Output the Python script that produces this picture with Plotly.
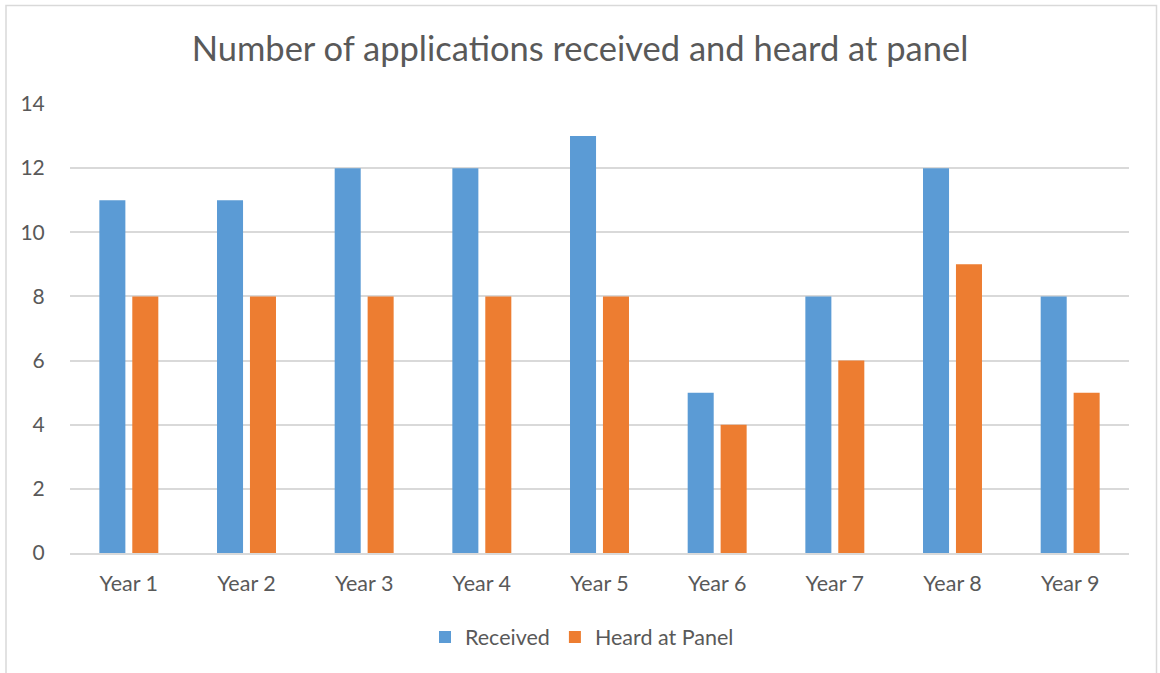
import plotly.graph_objects as go

categories = ["Year 1", "Year 2", "Year 3", "Year 4", "Year 5", "Year 6", "Year 7", "Year 8", "Year 9"]
received = [11, 11, 12, 12, 13, 5, 8, 12, 8]
heard = [8, 8, 8, 8, 8, 4, 6, 9, 5]
y_ticks = [0, 2, 4, 6, 8, 10, 12, 14]

W, H = 1160, 673
L, R, T, B = 70, 31, 104, 120
pw, ph = W - L - R, H - T - B

def px_to_paper_x(x):
    return (x - L) / pw

def px_to_paper_y(y):
    return (H - B - y) / ph

font_family = "Lato, 'Open Sans', sans-serif"
text_color = "#595959"

fig = go.Figure()
fig.add_trace(go.Bar(x=categories, y=received, name="Received", marker=dict(color="#5B9BD5", line=dict(width=0))))
fig.add_trace(go.Bar(x=categories, y=heard, name="Heard at Panel", marker=dict(color="#ED7D31", line=dict(width=0))))

fig.update_layout(
    width=W, height=H,
    margin=dict(l=L, r=R, t=T, b=B),
    paper_bgcolor="white", plot_bgcolor="white",
    barmode="group", bargap=0.44, bargroupgap=0.21,
    font=dict(family=font_family, color=text_color, size=21),
    title=dict(text="Number of applications received and heard at panel",
               x=0.5, xanchor="center", y=1 - 49 / H, yanchor="middle",
               font=dict(size=34.5, color=text_color, family=font_family)),
    legend=dict(orientation="h", x=px_to_paper_x(582), xanchor="center",
                y=px_to_paper_y(637), yanchor="middle",
                font=dict(size=21.5, color=text_color), itemwidth=30),
    showlegend=True,
)
fig.update_yaxes(range=[0, 14], tickvals=y_ticks, showgrid=True, gridcolor="#D9D9D9", gridwidth=1.5,
                 zeroline=False, showline=False, ticks="outside", ticklen=20, tickcolor="rgba(0,0,0,0)",
                 tickfont=dict(size=21, color=text_color))
fig.update_xaxes(showline=True, linecolor="#D9D9D9", linewidth=1.5, ticks="outside", ticklen=10,
                 tickcolor="rgba(0,0,0,0)", tickfont=dict(size=21.5, color=text_color))

fig.add_shape(type="rect", xref="paper", yref="paper",
              x0=px_to_paper_x(6), x1=px_to_paper_x(1156.5),
              y0=px_to_paper_y(690), y1=px_to_paper_y(5.5),
              line=dict(color="#D9D9D9", width=1.5), fillcolor="rgba(0,0,0,0)", layer="below")

fig.write_html("out.html", config={"displayModeBar": False},
               post_script="document.body.style.margin='0';document.body.style.overflow='hidden';"
                           "document.documentElement.style.overflow='hidden';")
